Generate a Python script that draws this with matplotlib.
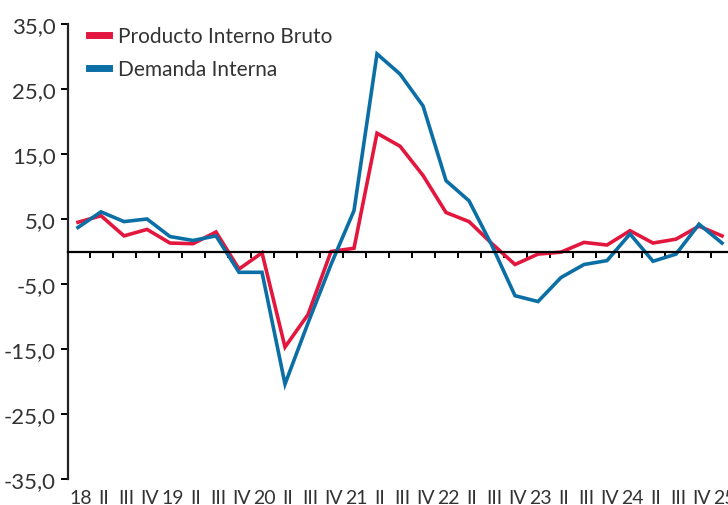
import matplotlib
matplotlib.use('Agg')
import matplotlib.pyplot as plt
import matplotlib.transforms as mtransforms

plt.rcParams['font.family'] = ['Lato', 'Open Sans', 'DejaVu Sans']

# Quarterly data, 2018-I to 2025-I (var. % interanual)
quarters = ['18', 'II', 'III', 'IV', '19', 'II', 'III', 'IV', '20', 'II', 'III', 'IV',
            '21', 'II', 'III', 'IV', '22', 'II', 'III', 'IV', '23', 'II', 'III', 'IV',
            '24', 'II', 'III', 'IV', '25']
pib = [4.5, 5.5, 2.4, 3.4, 1.3, 1.2, 3.0, -2.7, -0.2, -14.7, -9.7, 0.0,
       0.5, 18.2, 16.2, 11.7, 6.0, 4.6, 1.2, -2.0, -0.4, -0.1, 1.4, 1.0,
       3.2, 1.3, 1.9, 3.9, 2.4]
demanda = [3.7, 6.1, 4.6, 5.0, 2.3, 1.7, 2.4, -3.2, -3.2, -20.4, -11.0, -2.0,
           6.3, 30.4, 27.3, 22.4, 10.9, 7.8, 0.9, -6.8, -7.7, -4.0, -2.0, -1.4,
           2.7, -1.5, -0.4, 4.2, 1.3]
yticks = [35, 25, 15, 5, -5, -15, -25, -35]

red = '#E3173E'
blue = '#0B6FA6'
txt = '#333333'

fig = plt.figure(figsize=(7.28, 5.06), dpi=100)
ax = fig.add_axes([68 / 728, 26 / 506, 660 / 728, 455 / 506])

x = list(range(len(quarters)))
ax.plot(x, pib, color=red, lw=2.6, label='Producto Interno Bruto', solid_joinstyle='miter')
ax.plot(x, demanda, color=blue, lw=2.6, label='Demanda Interna', solid_joinstyle='miter')

ax.set_xlim(-0.435, 28.26)
ax.set_ylim(-35, 35)

ax.spines['top'].set_visible(False)
ax.spines['right'].set_visible(False)
ax.spines['bottom'].set_position(('data', 0))
ax.spines['bottom'].set_linewidth(1.6)
ax.spines['left'].set_linewidth(1.6)
ax.spines['left'].set_color('#222222')

ax.set_yticks(yticks)
ax.set_yticklabels([f'{v:.1f}'.replace('.', ',') for v in yticks], fontsize=16, color=txt)
ax.tick_params(axis='y', direction='out', length=5, width=1.4, pad=4)

ax.set_xticks([i + 0.5 for i in range(len(quarters) - 1)])
ax.set_xticklabels([])
ax.tick_params(axis='x', direction='out', length=4, width=1.4)

trans = mtransforms.blended_transform_factory(ax.transData, ax.transAxes)
for i, q in enumerate(quarters):
    ax.text(i + 0.1, -0.04, q, transform=trans, ha='center', va='center',
            fontsize=14, color=txt)

leg = ax.legend(loc='upper left', bbox_to_anchor=(0.003, 1.036), frameon=False,
                fontsize=15, handlelength=0.95, handletextpad=0.45, labelspacing=0.62)
for h in leg.get_lines():
    h.set_linewidth(5)
for t in leg.get_texts():
    t.set_color(txt)

fig.savefig('out.png', dpi=100)
